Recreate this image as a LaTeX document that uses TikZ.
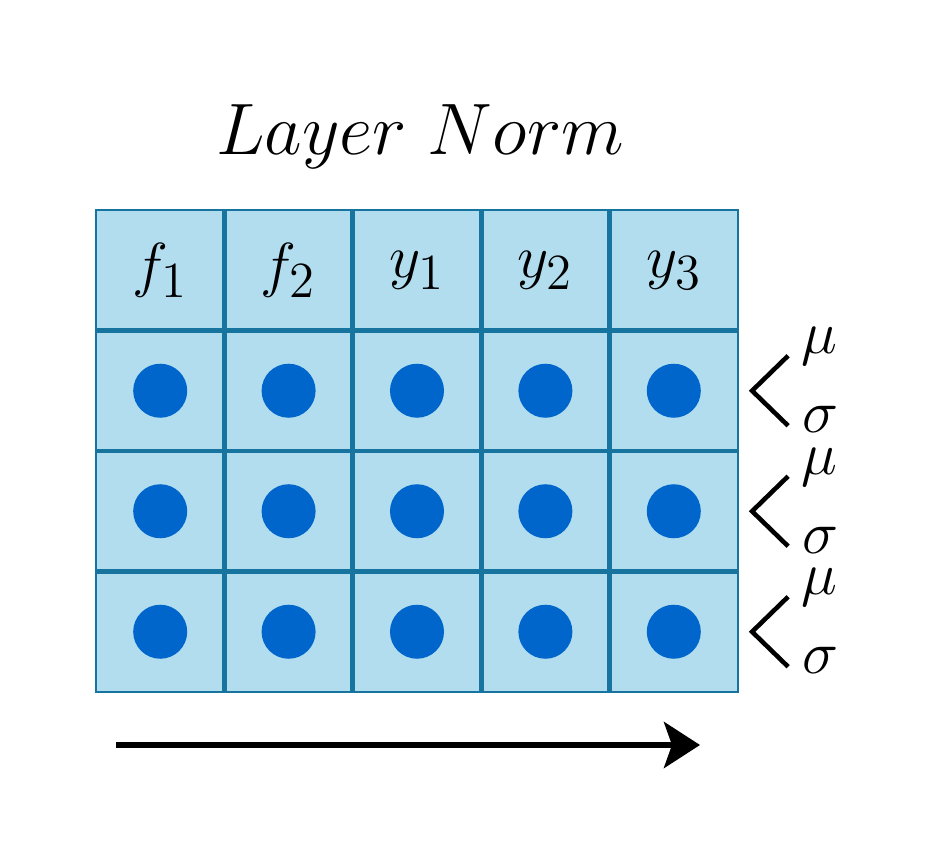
\documentclass[tikz,border=0pt]{standalone}
\usetikzlibrary{positioning, arrows.meta}
\definecolor{cellblue}{HTML}{B1DDEF}
\definecolor{gridline}{HTML}{17749E}
\definecolor{dotblue}{HTML}{0066CC}
\begin{document}
\begin{tikzpicture}[x=0.01cm, y=-0.01cm,
    cell/.style={fill=cellblue, minimum width=1.285cm, minimum height=1.205cm, inner sep=0pt, outer sep=0pt},
    dot/.style={circle, fill=dotblue, minimum size=0.54cm, inner sep=0pt},
    lbl/.style={font=\fontsize{19}{22}\selectfont},
    stat/.style={font=\fontsize{19}{22}\selectfont, inner sep=0pt},
    sep/.style={draw=gridline, line width=1.4pt},
    brace/.style={line width=1.3pt, line join=miter}]
        \useasboundingbox (0,0) rectangle (945,864);
        % title
        \node[font=\fontsize{20}{24}\selectfont] (title) at (420,137) {$Layer\ Norm$};
        % cells
        \foreach \r in {1,...,4}
            \foreach \c in {1,...,5}
                \node[cell] (c\r\c) at ({96+128.4*(\c-0.5)}, {210+120.5*(\r-0.5)}) {};
        % header
        \node[lbl] (h1) at (c11) {$f_1$};
        \node[lbl] (h2) at (c12) {$f_2$};
        \node[lbl] (h3) at (c13) {$y_1$};
        \node[lbl] (h4) at (c14) {$y_2$};
        \node[lbl] (h5) at (c15) {$y_3$};
        % grid lines
        \foreach \c in {1,...,4}
            \draw[sep] (c1\c.north east) -- (c4\c.south east);
        \foreach \r in {1,2,3}
            \draw[sep] (c\r1.south west) -- (c\r5.south east);
        \draw[gridline, line width=0.6pt] (c11.north west) rectangle (c45.south east);
        % dots
        \foreach \r in {2,3,4}
            \foreach \c in {1,...,5}
                \node[dot] (d\r\c) at (c\r\c) {};
        % mean and std per row
        \foreach \r in {2,3,4} {
            \node[stat] (mu\r) at ([xshift=1.46cm,yshift=0.44cm]c\r5) {$\mu$};
            \node[stat] (sd\r) at ([xshift=1.47cm,yshift=-0.29cm]c\r5) {$\sigma$};
            \coordinate (v\r) at ([xshift=0.14cm]c\r5.east);
            \coordinate (t\r) at ([xshift=0.36cm,yshift=0.35cm]v\r);
            \coordinate (b\r) at ([xshift=0.36cm,yshift=-0.35cm]v\r);
            \draw[brace] (t\r) -- (v\r) -- (b\r);
        }
        % direction
        \coordinate (arrS) at (116,745);
        \coordinate (arrE) at (700,745);
        \draw[-{Stealth[length=0.36cm,width=0.46cm,inset=0.08cm]}, line width=1.7pt] (arrS) -- (arrE);
\end{tikzpicture}
\end{document}
